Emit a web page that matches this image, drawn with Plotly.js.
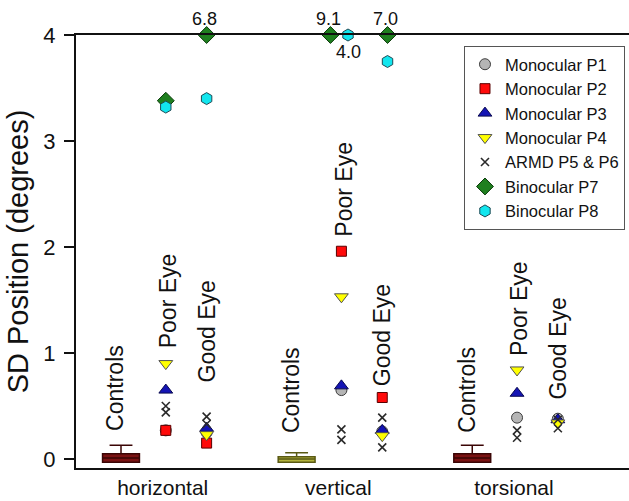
<!DOCTYPE html>
<html>
<head>
<meta charset="utf-8">
<script src="https://cdn.plot.ly/plotly-3.0.1.min.js"></script>
<style>html,body{margin:0;padding:0;background:#fff;}#chart{width:629px;height:501px;}</style>
</head>
<body>
<div id="chart"></div>
<script>
// ---------------- data ----------------
const directions = ['horizontal', 'vertical', 'torsional'];
const conditions = ['Controls', 'Poor Eye', 'Good Eye'];

// control group box statistics (per direction)
const ctrlLower  = [-0.03, -0.03, -0.03];
const ctrlQ1     = [-0.03, -0.03, -0.03];
const ctrlMedian = [0.01, 0.00, 0.01];
const ctrlQ3     = [0.05, 0.02, 0.05];
const ctrlUpper  = [0.13, 0.06, 0.13];

// patient values, order: h-poor, h-good, v-poor, v-good, t-poor, t-good
const monoP1 = [0.27, 0.25, 0.65, 0.26, 0.39, 0.38];
const monoP2 = [0.27, 0.15, 1.96, 0.58, null, null];
const monoP3 = [0.65, 0.29, 0.69, 0.27, 0.62, 0.37];
const monoP4 = [0.90, 0.23, 1.53, 0.22, 0.84, 0.34];
const armdP5 = [0.50, 0.40, 0.28, 0.39, 0.27, 0.37];
const armdP6 = [0.44, 0.33, 0.18, 0.11, 0.20, 0.29];
const binoP7 = [3.38, 6.8, 9.1, 7.0, null, null];
const binoP8 = [3.32, 3.40, 4.0, 3.75, null, null];

const legendNames = ['Monocular P1', 'Monocular P2', 'Monocular P3', 'Monocular P4',
                     'ARMD P5 & P6', 'Binocular P7', 'Binocular P8'];

// ---------------- layout helpers ----------------
const FONT = '"Liberation Sans", Arial, sans-serif';
const yMax = 4;
const groupStart = [0, 4, 8];
const condOffset = [0, 1.02, 1.95];
const slotX = [];           // x for each patient slot (poor, good per direction)
directions.forEach((d, g) => { slotX.push(groupStart[g] + condOffset[1]); slotX.push(groupStart[g] + condOffset[2]); });

const traces = [];
const boxFill = ['#7a1212', '#b3b33c', '#7a1212'];
const boxLine = ['#3a0505', '#5a5a14', '#3a0505'];
directions.forEach((d, g) => {
  traces.push({
    type: 'box', x: [groupStart[g]], q1: [ctrlQ1[g]], median: [ctrlMedian[g]], q3: [ctrlQ3[g]],
    lowerfence: [ctrlLower[g]], upperfence: [ctrlUpper[g]],
    width: 0.84, whiskerwidth: 0.62, fillcolor: boxFill[g],
    line: { color: boxLine[g], width: 1.5 }, showlegend: false, hoverinfo: 'skip'
  });
});

function pts(vals, name, marker, extraX) {
  const xs = [], ys = [];
  vals.forEach((v, i) => { if (v !== null) { xs.push(slotX[i] + (extraX ? extraX[i] : 0)); ys.push(Math.min(v, yMax)); } });
  return { type: 'scatter', mode: 'markers', x: xs, y: ys, name: name, marker: marker, cliponaxis: false };
}

traces.push(pts(monoP1, legendNames[0], { symbol: 'circle', size: 11, color: '#b5b5b5', line: { color: '#3c3c3c', width: 1 } }));
traces.push(pts(monoP2, legendNames[1], { symbol: 'square', size: 10, color: '#ff0a0a', line: { color: '#5a0000', width: 1 } }));
traces.push(pts(monoP3, legendNames[2], { symbol: 'triangle-up', size: 12, color: '#1414b4', line: { color: '#0a0a50', width: 1 } }));
traces.push(pts(monoP4, legendNames[3], { symbol: 'triangle-down', size: 12, color: '#ffff00', line: { color: '#505050', width: 1 } }));

// ARMD P5 & P6 share one legend entry
const armdAll = armdP5.concat(armdP6);
traces.push({
  type: 'scatter', mode: 'markers', name: legendNames[4],
  x: armdAll.map((v, i) => slotX[i % slotX.length]), y: armdAll,
  marker: { symbol: 'x-thin-open', size: 8, color: '#2a2a2a', line: { color: '#2a2a2a', width: 1.6 } }, cliponaxis: false
});

// binocular: dodge the two when both are off scale in the same slot
const dodge7 = binoP7.map((v, i) => (v !== null && binoP8[i] !== null && v >= yMax && binoP8[i] >= yMax) ? -0.25 : (v !== null && v > yMax && i > 1 ? 0.12 : 0));
const dodge8 = binoP8.map((v, i) => (v !== null && binoP7[i] !== null && v >= yMax && binoP7[i] >= yMax) ? 0.15 : (i === 3 ? 0.12 : 0));
traces.push(pts(binoP7, legendNames[5], { symbol: 'diamond', size: 13, color: '#1f7f1f', line: { color: '#0b3a0b', width: 1 } }, dodge7));
traces.push(pts(binoP8, legendNames[6], { symbol: 'hexagon', size: 12, color: '#12e6ee', line: { color: '#1d4a55', width: 1 } }, dodge8));

// ---------------- annotations ----------------
const annotations = [];
// condition labels (rotated); bottom of text in data units
const labelBottom = [[0.245, 1.03, 0.70], [0.23, 2.08, 0.67], [0.23, 0.95, 0.54]];
const labelShift = [-0.14, 0.05, 0.0];
directions.forEach((d, g) => {
  conditions.forEach((c, k) => {
    annotations.push({
      x: groupStart[g] + condOffset[k] + labelShift[k], y: labelBottom[g][k], xref: 'x', yref: 'y',
      text: c, textangle: -90, showarrow: false, xanchor: 'center', yanchor: 'bottom',
      font: { family: FONT, size: 23, color: '#111' }
    });
  });
});
// off-scale value labels
function offLabels(vals, dodge, below) {
  vals.forEach((v, i) => {
    if (v !== null && v >= yMax && (v > yMax || below)) {
      annotations.push({
        x: slotX[i] + dodge[i] + (below ? 0 : -0.05), y: yMax, xref: 'x', yref: 'y',
        text: v.toFixed(1), showarrow: false, xanchor: 'center', yanchor: below ? 'top' : 'bottom',
        yshift: below ? -5 : 4, font: { family: FONT, size: 18, color: '#111' }
      });
    }
  });
}
offLabels(binoP7, dodge7, false);
offLabels(binoP8, dodge8, true);

const layout = {
  width: 629, height: 501,
  margin: { l: 76, r: 0, t: 35, b: 33 },
  paper_bgcolor: '#fff', plot_bgcolor: '#fff',
  font: { family: FONT, color: '#111' },
  showlegend: true,
  legend: {
    x: 0.7016, y: 0.9746, xanchor: 'left', yanchor: 'top',
    bgcolor: '#fff', bordercolor: '#555', borderwidth: 1,
    font: { family: FONT, size: 16.5, color: '#111' }, tracegroupgap: 0
  },
  xaxis: {
    range: [-1.025, 11.57], showgrid: false, zeroline: false,
    showline: true, linecolor: '#111', linewidth: 2, mirror: true,
    tickmode: 'array', tickvals: groupStart.map(v => v + 0.95), ticktext: directions,
    ticks: '', ticklabelstandoff: 0, tickfont: { family: FONT, size: 21, color: '#111' }
  },
  yaxis: {
    range: [-0.085, 4], showgrid: false, zeroline: false,
    showline: true, linecolor: '#111', linewidth: 2,
    tickmode: 'array', tickvals: [0, 1, 2, 3, 4], ticks: 'outside', ticklen: 10, tickwidth: 1.5, tickcolor: '#111',
    ticklabelstandoff: 4, tickfont: { family: FONT, size: 22, color: '#111' },
    title: { text: 'SD Position (degrees)', font: { family: FONT, size: 29, color: '#111' }, standoff: 6 }
  },
  annotations: annotations
};

Plotly.newPlot('chart', traces, layout, { displayModeBar: false, staticPlot: true });
</script>
</body>
</html>
